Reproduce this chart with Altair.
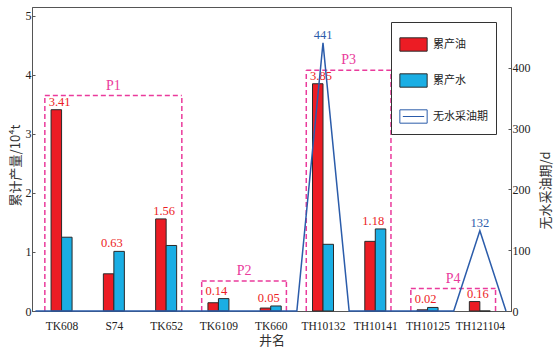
import altair as alt
import pandas as pd

# ---------------- data ----------------
wells = ["TK608", "S74", "TK652", "TK6109", "TK660", "TH10132", "TH10141", "TH10125", "TH121104"]
oil = [3.41, 0.63, 1.56, 0.14, 0.05, 3.85, 1.18, 0.02, 0.16]          # 累产油 (10^4 t)
water = [1.25, 1.01, 1.11, 0.21, 0.085, 1.13, 1.39, 0.06, 0.0]        # 累产水 (10^4 t)
period = [0, 0, 0, 0, 0, 441, 0, 0, 132]                               # 无水采油期 (d)

series = ["累产油", "累产水", "无水采油期"]

groups = ["P1", "P2", "P3", "P4"]
group_first = [0, 3, 5, 7]
group_last = [2, 4, 6, 8]
group_top = [3.65, 0.51, 4.08, 0.38]

# ---------------- tables ----------------
bar_rows = []
for i, w in enumerate(wells):
    bar_rows.append({"idx": i, "well": w, "series": "累产油", "value": oil[i]})
    bar_rows.append({"idx": i, "well": w, "series": "累产水", "value": water[i]})
bar_df = pd.DataFrame(bar_rows)

lab_df = pd.DataFrame({"idx": list(range(len(wells))), "oil": oil, "water": water})

line_rows = []
for i, p in enumerate(period):
    line_rows.append({"x": i - 0.5, "period": 0, "series": "无水采油期"})
    line_rows.append({"x": i, "period": p, "series": "无水采油期"})
line_rows.append({"x": len(period) - 0.5, "period": 0, "series": "无水采油期"})
line_df = pd.DataFrame(line_rows)
peak_df = pd.DataFrame({"x": [i for i, p in enumerate(period) if p > 0],
                        "period": [p for p in period if p > 0]})

grp_df = pd.DataFrame({"g": groups, "first": group_first, "last": group_last, "top": group_top})

# ---------------- styling ----------------
RED = "#ec1c24"
BLUE = "#1aaee4"
NAVY = "#2b5caa"
MAG = "#ea3b9c"
SERIF = "Liberation Serif"
CJK = "Noto Sans CJK SC"

rect = "M-1,-0.49H1V0.49H-1Z"
rect_line = "M-1,-0.49H1V0.49H-1Z M-0.78,0H0.78"

legend = alt.Legend(title=None, orient="top-right", offset=15, strokeColor="#333",
                    fillColor="white", padding=8, labelFont=CJK, labelFontSize=11,
                    labelColor="#222", symbolSize=745, symbolStrokeWidth=1,
                    rowPadding=12, labelOffset=5, symbolOpacity=1)

fill_scale = alt.Scale(domain=series, range=[RED, BLUE, "white"])
stroke_scale = alt.Scale(domain=series, range=["#2a2a2a", "#2a2a2a", NAVY])
shape_scale = alt.Scale(domain=series, range=[rect, rect, rect_line])

xscale = alt.Scale(domain=[-0.47, 8.5], nice=False, zero=False)
yscale = alt.Scale(domain=[0, 5.15], nice=False)
y2scale = alt.Scale(domain=[0, 500], nice=False)

label_expr = "[" + ",".join("'%s'" % w for w in wells) + "][datum.value]"
xaxis = alt.Axis(values=list(range(len(wells))), labelExpr=label_expr, ticks=False,
                 labelPadding=9, labelFont=SERIF, labelFontSize=11.5, labelColor="#222",
                 title="井名", titlePadding=3)
yaxis = alt.Axis(values=[0, 1, 2, 3, 4, 5], title="累计产量/10⁴t", tickSize={"expr": "-3"},
                 labelFont=SERIF, labelFontSize=12, labelColor="#222",
                 labelPadding=4, titleX=-17, titleY=158, titleBaseline="middle")
y2axis = alt.Axis(values=[0, 100, 200, 300, 400], orient="right", title="无水采油期/d",
                  tickSize={"expr": "-3"}, labelFont=SERIF, labelFontSize=12, labelColor="#222",
                  labelPadding=4, titleAngle=270, titleX=34, titleY=183, titleBaseline="middle")

X = alt.X("idx:Q", scale=xscale, axis=xaxis)

# ---------------- left-axis layers ----------------
red_bars = alt.Chart(bar_df).transform_filter(alt.datum.series == "累产油").mark_bar(
    width=10.5, xOffset=-5.25, strokeWidth=1).encode(
    x=X,
    y=alt.Y("value:Q", scale=yscale, axis=yaxis),
    fill=alt.Fill("series:N", scale=fill_scale, legend=legend),
    stroke=alt.Stroke("series:N", scale=stroke_scale, legend=legend),
)
blue_bars = alt.Chart(bar_df).transform_filter(alt.datum.series == "累产水").mark_bar(
    width=10.5, xOffset=5.25, strokeWidth=1).encode(
    x=X,
    y=alt.Y("value:Q", scale=yscale, axis=yaxis),
    fill=alt.Fill("series:N", scale=fill_scale, legend=legend),
    stroke=alt.Stroke("series:N", scale=stroke_scale, legend=legend),
)
legend_carrier = alt.Chart(bar_df).transform_filter("false").mark_point(filled=True).encode(
    x=X,
    y=alt.Y("value:Q", scale=yscale, axis=yaxis),
    fill=alt.Fill("series:N", scale=fill_scale, legend=legend),
    stroke=alt.Stroke("series:N", scale=stroke_scale, legend=legend),
    shape=alt.Shape("series:N", scale=shape_scale, legend=legend),
)
value_labels = alt.Chart(lab_df).transform_calculate(
    top="max(datum.oil, datum.water)").mark_text(
    font=SERIF, fontSize=12.5, color=RED, baseline="bottom", dy=-1, dx=-2).encode(
    x=X,
    y=alt.Y("top:Q", scale=yscale, axis=yaxis),
    text=alt.Text("oil:Q", format=".2f"),
)

box_base = alt.Chart(grp_df).transform_calculate(
    xl="datum.first - 0.32", xr="datum.last + 0.3", base="0")
dash = dict(stroke=MAG, strokeWidth=1.5, strokeDash=[5, 3])
box_left = box_base.mark_rule(**dash).encode(
    x=alt.X("xl:Q", scale=xscale, axis=xaxis),
    y=alt.Y("base:Q", scale=yscale, axis=yaxis), y2="top:Q")
box_right = box_base.mark_rule(**dash).encode(
    x=alt.X("xr:Q", scale=xscale, axis=xaxis),
    y=alt.Y("base:Q", scale=yscale, axis=yaxis), y2="top:Q")
box_top = box_base.mark_rule(**dash).encode(
    x=alt.X("xl:Q", scale=xscale, axis=xaxis), x2="xr:Q",
    y=alt.Y("top:Q", scale=yscale, axis=yaxis))
box_labels = box_base.transform_calculate(cx="(datum.xl + datum.xr) / 2").mark_text(
    font=SERIF, fontSize=14, color=MAG, baseline="bottom", dy=-3).encode(
    x=alt.X("cx:Q", scale=xscale, axis=xaxis),
    y=alt.Y("top:Q", scale=yscale, axis=yaxis),
    text="g:N")

left = alt.layer(box_left, box_right, box_top, box_labels, red_bars, blue_bars,
                 value_labels, legend_carrier)

# ---------------- right-axis layers ----------------
line = alt.Chart(line_df).mark_line(strokeWidth=1.5).encode(
    x=alt.X("x:Q", scale=xscale, axis=xaxis),
    y=alt.Y("period:Q", scale=y2scale, axis=y2axis),
    stroke=alt.Stroke("series:N", scale=stroke_scale, legend=legend),
    order="x:Q",
)
line_labels = alt.Chart(peak_df).mark_text(
    font=SERIF, fontSize=12.5, color=NAVY, baseline="bottom", dy=-1).encode(
    x=alt.X("x:Q", scale=xscale, axis=xaxis),
    y=alt.Y("period:Q", scale=y2scale, axis=y2axis),
    text="period:Q")

right = alt.layer(line, line_labels)

chart = alt.layer(left, right).resolve_scale(y="independent").properties(
    width=479, height=304,
    autosize=alt.AutoSizeParams(type="none"),
    padding={"left": 32, "top": 7, "right": 49, "bottom": 38},
).configure_view(stroke="#555", strokeWidth=1).configure_axis(
    domainColor="#555", tickColor="#555", grid=False,
    labelFont=SERIF, labelFontSize=12, labelColor="#222",
    titleFont=CJK, titleFontSize=13, titleFontWeight="normal", titleColor="#333",
).configure_legend(cornerRadius=0)

chart.save("out.html", embed_options={"renderer": "svg", "actions": False})
